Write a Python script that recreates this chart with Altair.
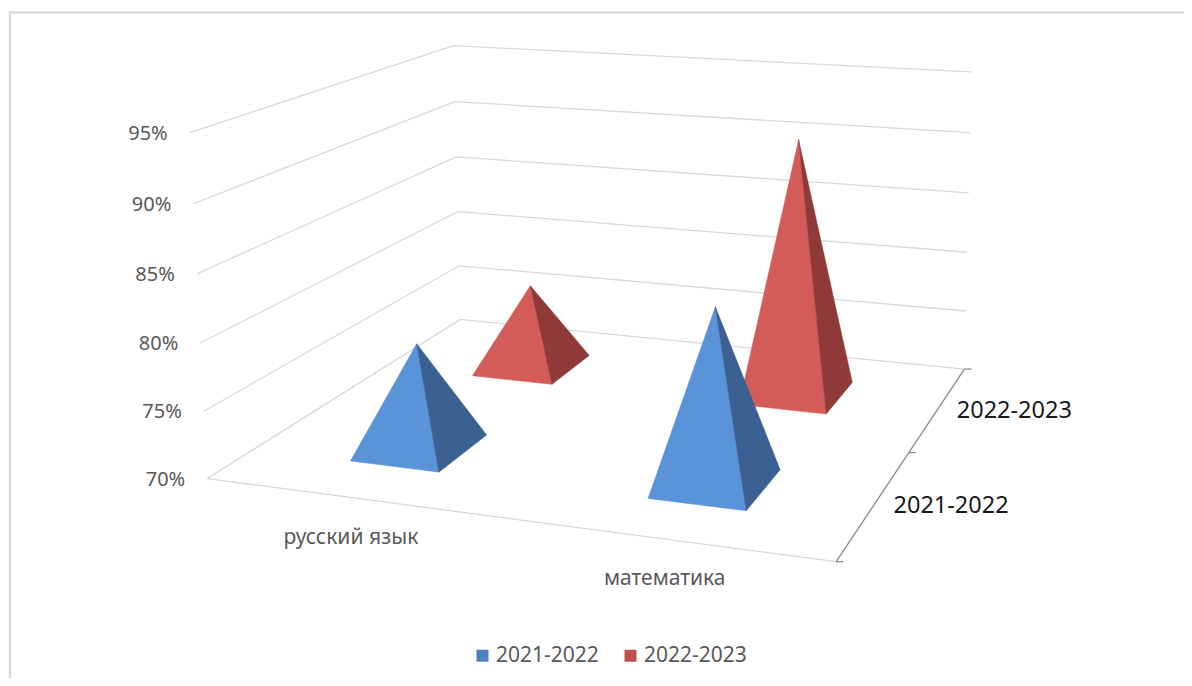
import altair as alt
import numpy as np
import pandas as pd

categories = ["русский язык", "математика"]
series = ["2021-2022", "2022-2023"]
values = {"2021-2022": [78.0, 82.9], "2022-2023": [76.9, 90.7]}
tick_labels = ["70%", "75%", "80%", "85%", "90%", "95%"]
front_colors = {"2021-2022": "#5b93d8", "2022-2023": "#d45c58"}
side_colors = {"2021-2022": "#3a6191", "2022-2023": "#8f3a38"}
legend_colors = ["#4f81bd", "#c0504d"]

# 3D box corners (category, depth, height) and where they appear on screen
box = [(0, 0, 0), (1, 0, 0), (0, 1, 0), (1, 1, 0), (0, 0, 1), (0, 1, 1), (1, 1, 1)]
screen = [(208, 479), (835, 563), (460, 320), (965, 367), (190, 131), (453, 46), (972, 73)]
A, b = [], []
for (u, v, h), (sx, sy) in zip(box, screen):
    A.append([u, v, h, 1, 0, 0, 0, 0, -sx * u, -sx * v, -sx * h]); b.append(sx)
    A.append([0, 0, 0, 0, u, v, h, 1, -sy * u, -sy * v, -sy * h]); b.append(sy)
p = np.linalg.lstsq(np.array(A, float), np.array(b, float), rcond=None)[0]


def proj(u, v, h=0.0):
    w = p[8] * u + p[9] * v + p[10] * h + 1
    return ((p[0] * u + p[1] * v + p[2] * h + p[3]) / w,
            (p[4] * u + p[5] * v + p[6] * h + p[7]) / w)


def level(val):
    return (val - 70) / 25


HU, HV = 0.077, 0.098  # half-widths of a pyramid base


def triangle(face, color, pts):
    a, m, c = sorted(pts)
    t = (m[0] - a[0]) / (c[0] - a[0])
    other = a[1] + t * (c[1] - a[1])
    return [dict(face=face, fill=color, x=a[0], y=a[1], y2=a[1]),
            dict(face=face, fill=color, x=m[0], y=m[1], y2=other),
            dict(face=face, fill=color, x=c[0], y=c[1], y2=c[1])]


rows = []
order = [(0, 1), (1, 1), (0, 0), (1, 0)]
for i, (ci, si) in enumerate(order):
    s = series[si]
    uc, vc = 0.25 + 0.5 * ci, 0.25 + 0.5 * si
    apex = proj(uc, vc, level(values[s][ci]))
    fl, fr, br = proj(uc - HU, vc - HV), proj(uc + HU, vc - HV), proj(uc + HU, vc + HV)
    rows += triangle(f"{i:02d}a", front_colors[s], [fl, fr, apex])
    rows += triangle(f"{i:02d}b", side_colors[s], [fr, br, apex])
faces = pd.DataFrame(rows)

grid = []
for k in range(6):
    h = k / 5
    for j, (u, v) in enumerate([(0, 0), (0, 1), (1, 1)]):
        x, y = proj(u, v, h)
        grid.append(dict(line=f"h{k}", o=j, x=x, y=y))
for j, (u, v) in enumerate([(0, 0), (1, 0)]):
    x, y = proj(u, v)
    grid.append(dict(line="front", o=j, x=x, y=y))
grid = pd.DataFrame(grid)

axis_rows = []
for j, v in enumerate([0, 1]):
    x, y = proj(1, v)
    axis_rows.append(dict(line="depth", o=j, x=x, y=y))
for j, v in enumerate([0, 0.5, 1]):
    x, y = proj(1, v)
    axis_rows.append(dict(line=f"t{j}", o=0, x=x, y=y))
    axis_rows.append(dict(line=f"t{j}", o=1, x=x + 7, y=y))
axis_df = pd.DataFrame(axis_rows)

frame = pd.DataFrame([dict(o=0, x=10, y=686), dict(o=1, x=10, y=12.5), dict(o=2, x=1192, y=12.5)])

ticks = pd.DataFrame([
    dict(t=t, x=proj(0, 0, k / 5)[0] - 22, y=proj(0, 0, k / 5)[1] + 1)
    for k, t in enumerate(tick_labels)
])
cat_labels = pd.DataFrame([
    dict(t=c, x=proj(0.25 + 0.5 * i, 0)[0] - 1, y=proj(0.25 + 0.5 * i, 0)[1] + 40)
    for i, c in enumerate(categories)
])
ser_labels = pd.DataFrame([
    dict(t=s, x=proj(1, 0.25 + 0.5 * i)[0] + 76, y=proj(1, 0.25 + 0.5 * i)[1] + 3)
    for i, s in enumerate(series)
])
legend_df = pd.DataFrame(dict(series=series, x=[600, 600], y=[300, 300]))

X = alt.X("x:Q", scale=alt.Scale(domain=[8, 1184], nice=False, zero=False), axis=None)
Y = alt.Y("y:Q", scale=alt.Scale(domain=[678, 8], nice=False, zero=False), axis=None)
FONT = "Noto Sans"

frame_l = alt.Chart(frame).mark_line(color="#d9d9d9", strokeWidth=2.5, clip=True).encode(X, Y, order="o:Q")
grid_l = alt.Chart(grid).mark_line(color="#d9d9d9", strokeWidth=1.3).encode(X, Y, detail="line:N", order="o:Q")
axis_l = alt.Chart(axis_df).mark_line(color="#8c8c8c", strokeWidth=1.3).encode(X, Y, detail="line:N", order="o:Q")
faces_l = alt.Chart(faces).mark_area(interpolate="linear", orient="vertical", strokeWidth=0.5).encode(
    X, Y, y2="y2:Q",
    detail="face:N",
    fill=alt.Fill("fill:N", scale=None, legend=None),
    stroke=alt.Stroke("fill:N", scale=None, legend=None),
)
tick_l = alt.Chart(ticks).mark_text(align="right", fontSize=20, color="#595959", font=FONT).encode(X, Y, text="t:N")
cat_l = alt.Chart(cat_labels).mark_text(fontSize=21, color="#595959", font=FONT).encode(X, Y, text="t:N")
ser_l = alt.Chart(ser_labels).mark_text(fontSize=23.5, color="#1a1a1a", font=FONT).encode(X, Y, text="t:N")
legend_l = alt.Chart(legend_df).mark_square(size=0).encode(
    X, Y,
    color=alt.Color(
        "series:N",
        scale=alt.Scale(domain=series, range=legend_colors),
        legend=alt.Legend(
            title=None, orient="none", legendX=464, legendY=637, direction="horizontal", columns=2,
            symbolType="square", symbolSize=144, labelFont=FONT, labelFontSize=21,
            labelColor="#595959", columnPadding=21, symbolOpacity=1, labelOffset=3,
        ),
    ),
)

chart = alt.layer(frame_l, grid_l, axis_l, faces_l, tick_l, cat_l, ser_l, legend_l).resolve_scale(
    fill="independent", stroke="independent", color="independent"
).properties(
    width=1176, height=670, padding=0, autosize="none", background="white"
).configure_view(stroke=None)

chart.save("out.html", embed_options={"renderer": "svg", "actions": False})
